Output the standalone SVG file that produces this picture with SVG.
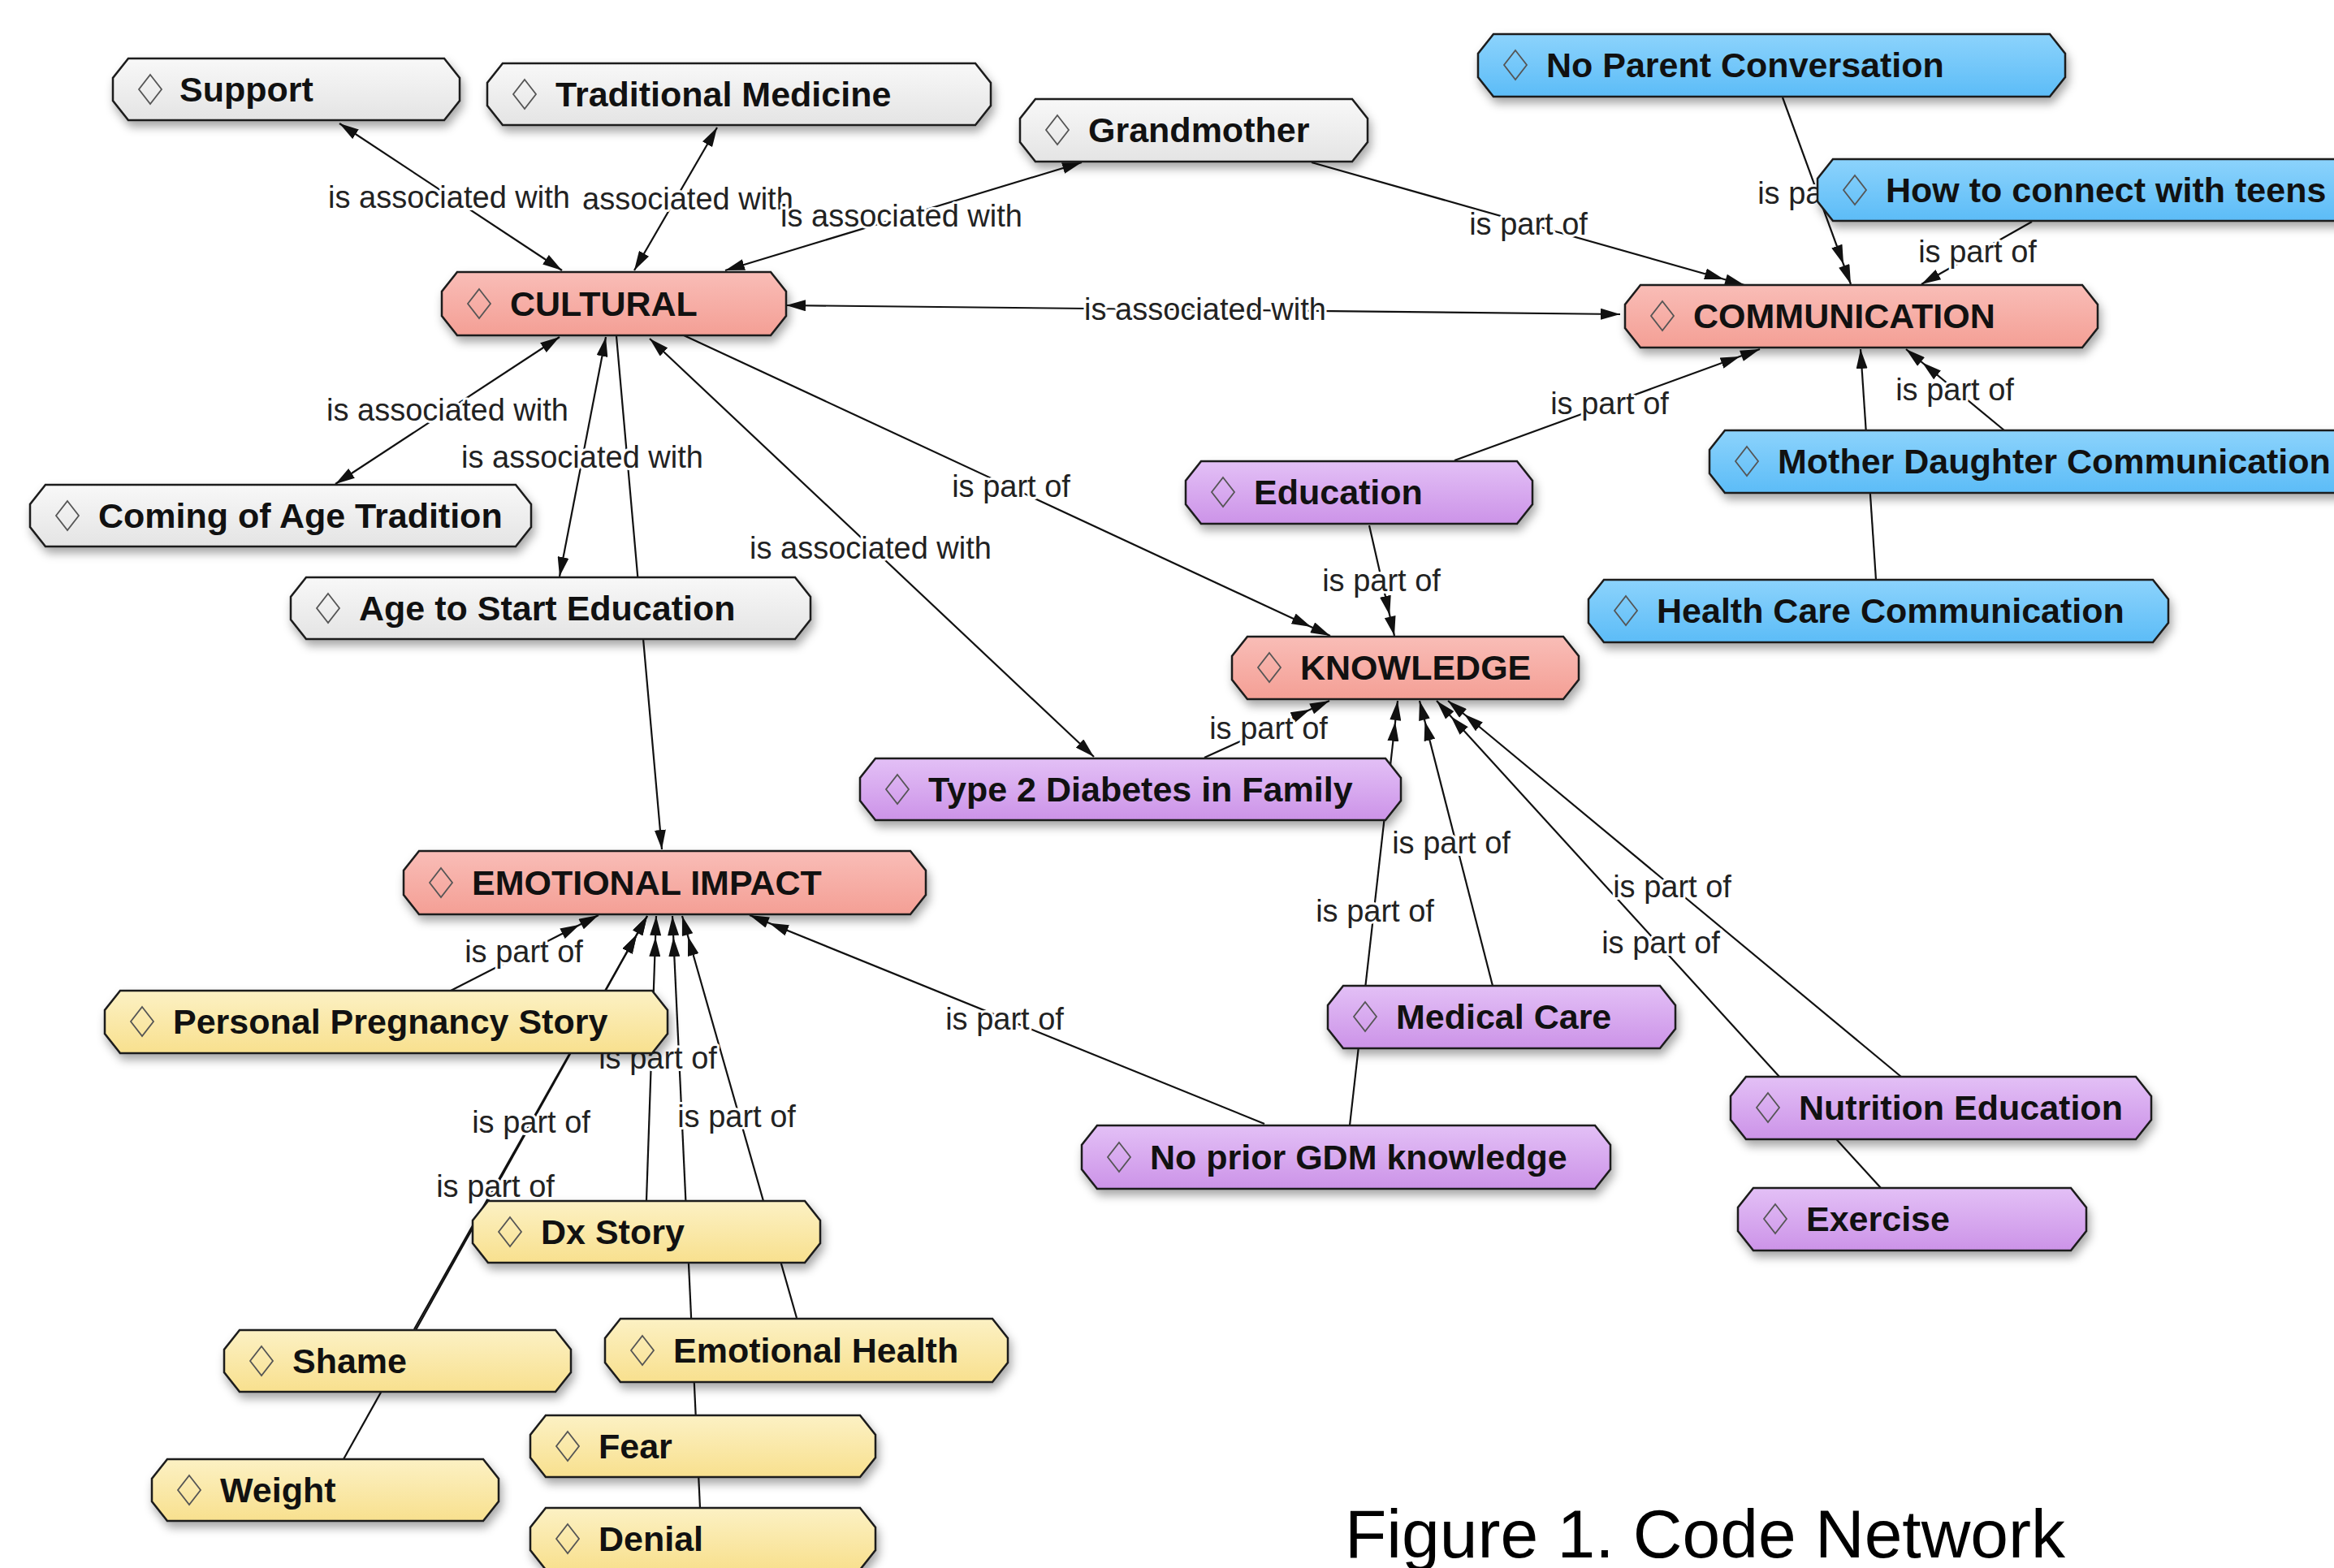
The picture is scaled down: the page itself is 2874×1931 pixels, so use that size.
<svg xmlns="http://www.w3.org/2000/svg" xmlns:xlink="http://www.w3.org/1999/xlink" width="2874" height="1931" viewBox="0 0 2874 1931">
<style>
.nd{stroke:#1a1a1a;stroke-width:2.5;filter:url(#sh)}
.gray{fill:url(#gGray)}.red{fill:url(#gRed)}.blue{fill:url(#gBlue)}.purple{fill:url(#gPurple)}.yellow{fill:url(#gYellow)}
.nt{font-family:"Liberation Sans",Arial,sans-serif;font-weight:bold;font-size:43px;fill:#111}
.dia{fill:none;stroke:#555;stroke-width:1.8}
.ln{stroke:#111;stroke-width:2.2;fill:none}
.lbl{font-family:"Liberation Sans",Arial,sans-serif;font-size:38px;fill:#222;text-anchor:middle;stroke:#fff;stroke-width:6;paint-order:stroke;stroke-linejoin:round}
.cap{font-family:"Liberation Sans",Arial,sans-serif;font-size:84px;fill:#000}
</style>
<defs>
<linearGradient id="gGray" x1="0" y1="0" x2="0" y2="1"><stop offset="0" stop-color="#f8f8f8"/><stop offset="1" stop-color="#e4e4e4"/></linearGradient>
<linearGradient id="gRed" x1="0" y1="0" x2="0" y2="1"><stop offset="0" stop-color="#f9bdb7"/><stop offset="1" stop-color="#f49f95"/></linearGradient>
<linearGradient id="gBlue" x1="0" y1="0" x2="0" y2="1"><stop offset="0" stop-color="#8cd3fc"/><stop offset="1" stop-color="#5cbcf7"/></linearGradient>
<linearGradient id="gPurple" x1="0" y1="0" x2="0" y2="1"><stop offset="0" stop-color="#e3c0f6"/><stop offset="1" stop-color="#cc93e8"/></linearGradient>
<linearGradient id="gYellow" x1="0" y1="0" x2="0" y2="1"><stop offset="0" stop-color="#fcf1c4"/><stop offset="1" stop-color="#f8e08e"/></linearGradient>
<filter id="sh" x="-10%" y="-30%" width="120%" height="170%"><feDropShadow dx="3" dy="7" stdDeviation="6" flood-color="#000" flood-opacity="0.35"/></filter>
<polygon id="dia" points="0,-18 14,0 0,18 -14,0"/>
<marker id="a1" viewBox="0 0 24 14" markerWidth="24" markerHeight="14" refX="24" refY="7" orient="auto-start-reverse" markerUnits="userSpaceOnUse"><path d="M0,0 L24,7 L0,14 Z" fill="#111"/></marker>
<marker id="a2" viewBox="0 0 50 14" markerWidth="50" markerHeight="14" refX="50" refY="7" orient="auto" markerUnits="userSpaceOnUse"><path d="M0,0 L24,7 L0,14 Z M26,0 L50,7 L26,14 Z" fill="#111"/></marker>
</defs>
<rect width="2874" height="1931" fill="#fff"/>
<g id="connectors">
<line class="ln" x1="418" y1="152" x2="692" y2="333" marker-start="url(#a1)" marker-end="url(#a1)"/>
<line class="ln" x1="883" y1="157" x2="781" y2="333" marker-start="url(#a1)" marker-end="url(#a1)"/>
<line class="ln" x1="1332" y1="200" x2="893" y2="333" marker-start="url(#a1)" marker-end="url(#a1)"/>
<line class="ln" x1="1615" y1="200" x2="2148" y2="351" marker-end="url(#a2)"/>
<line class="ln" x1="2195" y1="120" x2="2279" y2="350" marker-end="url(#a2)"/>
<line class="ln" x1="2502" y1="273" x2="2366" y2="350" marker-end="url(#a1)"/>
<line class="ln" x1="968" y1="376" x2="1995" y2="387" marker-start="url(#a1)" marker-end="url(#a1)"/>
<line class="ln" x1="1791" y1="567" x2="2167" y2="430" marker-end="url(#a2)"/>
<line class="ln" x1="2310" y1="714" x2="2291" y2="430" marker-end="url(#a1)"/>
<line class="ln" x1="2468" y1="530" x2="2347" y2="430" marker-end="url(#a2)"/>
<line class="ln" x1="689" y1="415" x2="413" y2="596" marker-start="url(#a1)" marker-end="url(#a1)"/>
<line class="ln" x1="746" y1="415" x2="689" y2="710" marker-start="url(#a1)" marker-end="url(#a1)"/>
<line class="ln" x1="759" y1="414" x2="815" y2="1046" marker-end="url(#a1)"/>
<line class="ln" x1="800" y1="417" x2="1347" y2="932" marker-start="url(#a1)" marker-end="url(#a1)"/>
<line class="ln" x1="842" y1="413" x2="1638" y2="783" marker-end="url(#a2)"/>
<line class="ln" x1="1686" y1="647" x2="1717" y2="783" marker-end="url(#a2)"/>
<line class="ln" x1="1483" y1="933" x2="1637" y2="863" marker-end="url(#a2)"/>
<line class="ln" x1="1662" y1="1386" x2="1721" y2="863" marker-end="url(#a2)"/>
<line class="ln" x1="1838" y1="1214" x2="1748" y2="863" marker-end="url(#a2)"/>
<line class="ln" x1="2341" y1="1326" x2="1783" y2="863" marker-end="url(#a2)"/>
<line class="ln" x1="2316" y1="1463" x2="1769" y2="863" marker-end="url(#a2)"/>
<line class="ln" x1="1557" y1="1384" x2="923" y2="1127" marker-end="url(#a2)"/>
<line class="ln" x1="555" y1="1220" x2="737" y2="1127" marker-end="url(#a2)"/>
<line class="ln" x1="423" y1="1797" x2="797" y2="1128" marker-end="url(#a2)"/>
<line class="ln" x1="510" y1="1637" x2="797" y2="1128" marker-end="url(#a2)"/>
<line class="ln" x1="796" y1="1478" x2="808" y2="1128" marker-end="url(#a2)"/>
<line class="ln" x1="981" y1="1623" x2="840" y2="1128" marker-end="url(#a2)"/>
<line class="ln" x1="862" y1="1857" x2="828" y2="1128" marker-end="url(#a2)"/>
<text class="lbl" x="553" y="256">is associated with</text>
<text class="lbl" x="717" y="258" style="text-anchor:start">associated with</text>
<text class="lbl" x="1110" y="279">is associated with</text>
<text class="lbl" x="1882" y="289">is part of</text>
<text class="lbl" x="2237" y="251">is part of</text>
<text class="lbl" x="2435" y="323">is part of</text>
<text class="lbl" x="1484" y="394">is associated with</text>
<text class="lbl" x="1982" y="510">is part of</text>
<text class="lbl" x="2407" y="493">is part of</text>
<text class="lbl" x="551" y="518">is associated with</text>
<text class="lbl" x="717" y="576">is associated with</text>
<text class="lbl" x="1072" y="688">is associated with</text>
<text class="lbl" x="1245" y="612">is part of</text>
<text class="lbl" x="1701" y="728">is part of</text>
<text class="lbl" x="1562" y="910">is part of</text>
<text class="lbl" x="1693" y="1135">is part of</text>
<text class="lbl" x="1787" y="1051">is part of</text>
<text class="lbl" x="2059" y="1105">is part of</text>
<text class="lbl" x="2045" y="1174">is part of</text>
<text class="lbl" x="1237" y="1268">is part of</text>
<text class="lbl" x="645" y="1185">is part of</text>
<text class="lbl" x="610" y="1474">is part of</text>
<text class="lbl" x="654" y="1395">is part of</text>
<text class="lbl" x="810" y="1316">is part of</text>
<text class="lbl" x="907" y="1388">is part of</text>
</g>
<g id="n-support"><polygon class="nd gray" points="158,72 547,72 566,96 566,124 547,148 158,148 139,124 139,96"/><use href="#dia" class="dia" x="185" y="110"/><text class="nt" x="221" y="125">Support</text></g>
<g id="n-tradmed"><polygon class="nd gray" points="619,78 1201,78 1220,102 1220,130 1201,154 619,154 600,130 600,102"/><use href="#dia" class="dia" x="646" y="116"/><text class="nt" x="684" y="131">Traditional Medicine</text></g>
<g id="n-grandmother"><polygon class="nd gray" points="1275,122 1665,122 1684,146 1684,175 1665,199 1275,199 1256,175 1256,146"/><use href="#dia" class="dia" x="1302" y="160"/><text class="nt" x="1340" y="175">Grandmother</text></g>
<g id="n-coming"><polygon class="nd gray" points="56,597 635,597 654,621 654,649 635,673 56,673 37,649 37,621"/><use href="#dia" class="dia" x="83" y="635"/><text class="nt" x="121" y="650">Coming of Age Tradition</text></g>
<g id="n-agestart"><polygon class="nd gray" points="377,711 979,711 998,735 998,763 979,787 377,787 358,763 358,735"/><use href="#dia" class="dia" x="404" y="749"/><text class="nt" x="442" y="764">Age to Start Education</text></g>
<g id="n-cultural"><polygon class="nd red" points="563,335 949,335 968,359 968,389 949,413 563,413 544,389 544,359"/><use href="#dia" class="dia" x="590" y="374"/><text class="nt" x="628" y="389">CULTURAL</text></g>
<g id="n-communication"><polygon class="nd red" points="2020,351 2564,351 2583,375 2583,404 2564,428 2020,428 2001,404 2001,375"/><use href="#dia" class="dia" x="2047" y="389"/><text class="nt" x="2085" y="404">COMMUNICATION</text></g>
<g id="n-knowledge"><polygon class="nd red" points="1536,784 1925,784 1944,808 1944,837 1925,861 1536,861 1517,837 1517,808"/><use href="#dia" class="dia" x="1563" y="822"/><text class="nt" x="1601" y="837">KNOWLEDGE</text></g>
<g id="n-emotional"><polygon class="nd red" points="516,1048 1121,1048 1140,1072 1140,1102 1121,1126 516,1126 497,1102 497,1072"/><use href="#dia" class="dia" x="543" y="1087"/><text class="nt" x="581" y="1102">EMOTIONAL IMPACT</text></g>
<g id="n-noparent"><polygon class="nd blue" points="1839,42 2524,42 2543,66 2543,95 2524,119 1839,119 1820,95 1820,66"/><use href="#dia" class="dia" x="1866" y="80"/><text class="nt" x="1904" y="95">No Parent Conversation</text></g>
<g id="n-howto"><polygon class="nd blue" points="2257,196 2901,196 2920,220 2920,248 2901,272 2257,272 2238,248 2238,220"/><use href="#dia" class="dia" x="2284" y="234"/><text class="nt" x="2322" y="249">How to connect with teens</text></g>
<g id="n-motherdaughter"><polygon class="nd blue" points="2124,530 2901,530 2920,554 2920,583 2901,607 2124,607 2105,583 2105,554"/><use href="#dia" class="dia" x="2151" y="568"/><text class="nt" x="2189" y="583">Mother Daughter Communication</text></g>
<g id="n-healthcare"><polygon class="nd blue" points="1975,714 2651,714 2670,738 2670,767 2651,791 1975,791 1956,767 1956,738"/><use href="#dia" class="dia" x="2002" y="752"/><text class="nt" x="2040" y="767">Health Care Communication</text></g>
<g id="n-education"><polygon class="nd purple" points="1479,568 1868,568 1887,592 1887,621 1868,645 1479,645 1460,621 1460,592"/><use href="#dia" class="dia" x="1506" y="606"/><text class="nt" x="1544" y="621">Education</text></g>
<g id="n-t2d"><polygon class="nd purple" points="1078,934 1706,934 1725,958 1725,986 1706,1010 1078,1010 1059,986 1059,958"/><use href="#dia" class="dia" x="1105" y="972"/><text class="nt" x="1143" y="987">Type 2 Diabetes in Family</text></g>
<g id="n-medical"><polygon class="nd purple" points="1654,1214 2044,1214 2063,1238 2063,1267 2044,1291 1654,1291 1635,1267 1635,1238"/><use href="#dia" class="dia" x="1681" y="1252"/><text class="nt" x="1719" y="1267">Medical Care</text></g>
<g id="n-noprior"><polygon class="nd purple" points="1351,1386 1964,1386 1983,1410 1983,1440 1964,1464 1351,1464 1332,1440 1332,1410"/><use href="#dia" class="dia" x="1378" y="1425"/><text class="nt" x="1416" y="1440">No prior GDM knowledge</text></g>
<g id="n-nutrition"><polygon class="nd purple" points="2150,1326 2630,1326 2649,1350 2649,1379 2630,1403 2150,1403 2131,1379 2131,1350"/><use href="#dia" class="dia" x="2177" y="1364"/><text class="nt" x="2215" y="1379">Nutrition Education</text></g>
<g id="n-exercise"><polygon class="nd purple" points="2159,1463 2550,1463 2569,1487 2569,1516 2550,1540 2159,1540 2140,1516 2140,1487"/><use href="#dia" class="dia" x="2186" y="1501"/><text class="nt" x="2224" y="1516">Exercise</text></g>
<g id="n-pps"><polygon class="nd yellow" points="148,1220 803,1220 822,1244 822,1273 803,1297 148,1297 129,1273 129,1244"/><use href="#dia" class="dia" x="175" y="1258"/><text class="nt" x="213" y="1273">Personal Pregnancy Story</text></g>
<g id="n-dx"><polygon class="nd yellow" points="601,1479 991,1479 1010,1503 1010,1531 991,1555 601,1555 582,1531 582,1503"/><use href="#dia" class="dia" x="628" y="1517"/><text class="nt" x="666" y="1532">Dx Story</text></g>
<g id="n-shame"><polygon class="nd yellow" points="295,1638 684,1638 703,1662 703,1690 684,1714 295,1714 276,1690 276,1662"/><use href="#dia" class="dia" x="322" y="1676"/><text class="nt" x="360" y="1691">Shame</text></g>
<g id="n-emohealth"><polygon class="nd yellow" points="764,1624 1222,1624 1241,1648 1241,1678 1222,1702 764,1702 745,1678 745,1648"/><use href="#dia" class="dia" x="791" y="1663"/><text class="nt" x="829" y="1678">Emotional Health</text></g>
<g id="n-fear"><polygon class="nd yellow" points="672,1743 1059,1743 1078,1767 1078,1795 1059,1819 672,1819 653,1795 653,1767"/><use href="#dia" class="dia" x="699" y="1781"/><text class="nt" x="737" y="1796">Fear</text></g>
<g id="n-weight"><polygon class="nd yellow" points="206,1797 595,1797 614,1821 614,1849 595,1873 206,1873 187,1849 187,1821"/><use href="#dia" class="dia" x="233" y="1835"/><text class="nt" x="271" y="1850">Weight</text></g>
<g id="n-denial"><polygon class="nd yellow" points="672,1857 1059,1857 1078,1881 1078,1909 1059,1933 672,1933 653,1909 653,1881"/><use href="#dia" class="dia" x="699" y="1895"/><text class="nt" x="737" y="1910">Denial</text></g>
<text class="cap" x="1656" y="1918">Figure 1. Code Network</text>
</svg>
